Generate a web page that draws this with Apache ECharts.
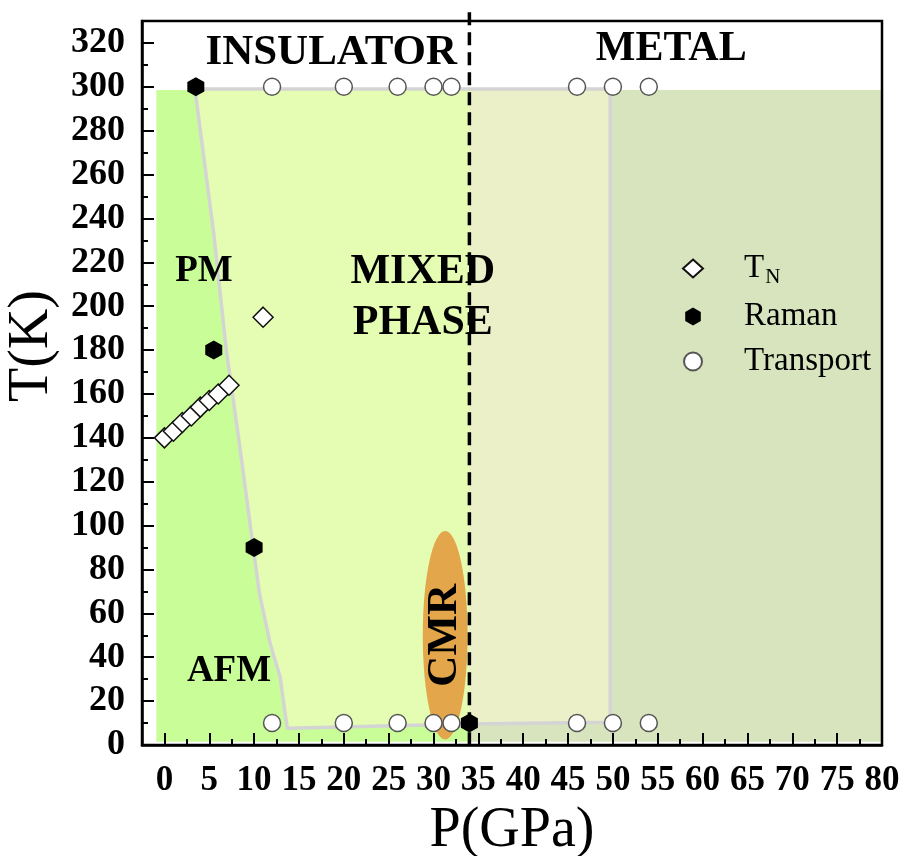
<!DOCTYPE html>
<html>
<head>
<meta charset="utf-8">
<script src="https://cdn.jsdelivr.net/npm/echarts@6/dist/echarts.min.js"></script>
<style>
  html, body { margin: 0; padding: 0; background: #ffffff; }
  #chart { width: 904px; height: 856px; }
</style>
</head>
<body>
<div id="chart"></div>
<script>
// Axis ticks (GPa and K)
const pressureTicks = [0, 5, 10, 15, 20, 25, 30, 35, 40, 45, 50, 55, 60, 65, 70, 75, 80];
const pressureMinorTicks = [2.5, 7.5, 12.5, 17.5, 22.5, 27.5, 32.5, 37.5, 42.5, 47.5, 52.5, 57.5, 62.5, 67.5, 72.5, 77.5];
const tempTicks = [0, 20, 40, 60, 80, 100, 120, 140, 160, 180, 200, 220, 240, 260, 280, 300, 320];
const tempMinorTicks = [10, 30, 50, 70, 90, 110, 130, 150, 170, 190, 210, 230, 250, 270, 290, 310];

// Measured points [P (GPa), T (K)]
const neelPoints = [[0, 140], [1, 143], [2, 147], [3, 150], [4, 154], [5, 157], [6, 160], [7.2, 164], [11, 195]];
const ramanPoints = [[3.5, 300], [5.5, 180], [10, 90], [34, 10]];
const transportPoints = [
  [12, 300], [20, 300], [26, 300], [30, 300], [32, 300], [46, 300], [50, 300], [54, 300],
  [12, 10], [20, 10], [26, 10], [30, 10], [32, 10], [46, 10], [50, 10], [54, 10]
];

// Phase boundaries
const afmEdge = [[3.4, 299], [5.5, 233], [6.9, 180], [8.3, 139], [9.9, 90], [10.6, 69], [11.8, 46], [12.9, 31], [13.4, 16], [13.7, 7.6]];
const lowEdge = [[13.7, 7.6], [34, 9.6], [49.7, 10.4]];
const metalEdge = [[49.7, 10.4], [49.7, 299], [3.4, 299]];
const transitionP = 34;   // insulator / metal divide
const topT = 298.5;
const bottomT = 1.5;

// Filled phase regions
const afmRegion = [[-0.9, bottomT], [-0.9, topT], [transitionP, topT], [transitionP, bottomT]];
const mixedRegion = [[3.4, topT]].concat(afmEdge.slice(1), [[transitionP, 9.6], [transitionP, topT]]);
const metalRegion = [[transitionP, bottomT], [transitionP, topT], [80, topT], [80, bottomT]];
const badMetalRegion = [[transitionP, 9.6], [transitionP, topT], [49.7, topT], [49.7, 10.4]];

// CMR ellipse: centre and half-axes (GPa, K)
const cmrCenter = [31.3, 50];
const cmrRadius = [2.5, 47.5];

// Region names [P, T, text]
const regionNames = [
  [18.6, 315.5, 'INSULATOR'],
  [56.5, 317, 'METAL'],
  [4.4, 216, 'PM'],
  [28.8, 204, 'MIXED\nPHASE'],
  [7.2, 33.4, 'AFM']
];
const cmrName = [31.3, 50, 'CMR'];

const SERIF = '"Liberation Serif", "Times New Roman", serif';
const HEX = 'path://M0,-1 L0.866,-0.5 L0.866,0.5 L0,1 L-0.866,0.5 L-0.866,-0.5 Z';

function regionSeries(verts, color) {
  return {
    type: 'custom',
    silent: true,
    z: 1,
    data: [[0, 0]],
    renderItem: function (params, api) {
      return {
        type: 'polygon',
        shape: { points: verts.map(function (p) { return api.coord(p); }) },
        style: { fill: color }
      };
    }
  };
}

const chart = echarts.init(document.getElementById('chart'), null, { renderer: 'canvas' });

const axisTickStyle = { color: '#000', width: 2 };

chart.setOption({
  animation: false,
  backgroundColor: '#ffffff',
  grid: {
    left: 142, right: 22, top: 21, bottom: 111, z: 10,
    outerBoundsMode: 'none', containLabel: false,
    show: true, borderColor: '#000', borderWidth: 2.5, backgroundColor: 'transparent'
  },
  legend: {
    orient: 'vertical',
    left: 677,
    top: 247,
    itemWidth: 20,
    itemHeight: 18,
    itemGap: 12,
    data: ['TN', 'Raman', 'Transport'],
    formatter: function (name) {
      return name === 'TN' ? '{t|T}{s|N}' : name;
    },
    textStyle: {
      fontFamily: SERIF, fontSize: 33, color: '#000', padding: [0, 0, 0, 36],
      rich: {
        t: { fontFamily: SERIF, fontSize: 33, color: '#000' },
        s: { fontFamily: SERIF, fontSize: 21, color: '#000', padding: [18, 0, 0, 1] }
      }
    }
  },
  xAxis: [
    {
      type: 'value', min: -2.5, max: 80, interval: 2.5, z: 10,
      position: 'bottom',
      name: 'P(GPa)', nameLocation: 'middle', nameGap: 54,
      nameTextStyle: { fontFamily: SERIF, fontSize: 56, color: '#000' },
      axisLine: { show: true, onZero: false, lineStyle: { color: '#000', width: 2.5 } },
      axisTick: { show: true, inside: true, length: 12, customValues: pressureTicks, lineStyle: axisTickStyle },
      axisLabel: {
        customValues: pressureTicks, margin: 18,
        fontFamily: SERIF, fontWeight: 'bold', fontSize: 35, color: '#000'
      },
      splitLine: { show: false }
    },
    {
      type: 'value', min: -2.5, max: 80, interval: 2.5, z: 10,
      position: 'bottom', offset: 0,
      axisLine: { show: false, onZero: false },
      axisTick: { show: true, inside: true, length: 6, customValues: pressureMinorTicks, lineStyle: axisTickStyle },
      axisLabel: { show: false },
      splitLine: { show: false }
    }
  ],
  yAxis: [
    {
      type: 'value', min: 0, max: 330, interval: 10, z: 10,
      position: 'left',
      name: 'T(K)', nameLocation: 'middle', nameGap: 75, nameRotate: 90,
      nameTextStyle: { fontFamily: SERIF, fontSize: 56, color: '#000', padding: [0, 0, 0, 74] },
      axisLine: { show: true, onZero: false, lineStyle: { color: '#000', width: 2.5 } },
      axisTick: { show: true, inside: true, length: 12, customValues: tempTicks, lineStyle: axisTickStyle },
      axisLabel: {
        customValues: tempTicks, margin: 17,
        fontFamily: SERIF, fontWeight: 'bold', fontSize: 36, color: '#000'
      },
      splitLine: { show: false }
    },
    {
      type: 'value', min: 0, max: 330, interval: 10, z: 10,
      position: 'left', offset: 0,
      axisLine: { show: false, onZero: false },
      axisTick: { show: true, inside: true, length: 6, customValues: tempMinorTicks, lineStyle: axisTickStyle },
      axisLabel: { show: false },
      splitLine: { show: false }
    }
  ],
  series: [
    regionSeries(afmRegion, '#c9fd98'),
    regionSeries(mixedRegion, '#e4fdb2'),
    regionSeries(metalRegion, '#d7e4bd'),
    regionSeries(badMetalRegion, '#ebf0c8'),
    {
      // phase boundary
      type: 'line', silent: true, z: 2, symbol: 'none',
      data: afmEdge.concat(lowEdge.slice(1), metalEdge.slice(1)),
      lineStyle: { color: '#d4d4d4', width: 3.5 }
    },
    {
      // CMR ellipse
      type: 'custom', silent: true, z: 3,
      data: [[cmrCenter[0], cmrCenter[1]]],
      renderItem: function (params, api) {
        const c = api.coord(cmrCenter);
        const s = api.size(cmrRadius);
        return {
          type: 'ellipse',
          shape: { cx: c[0], cy: c[1], rx: s[0], ry: s[1] },
          style: { fill: '#e4a64b' }
        };
      }
    },
    {
      // CMR label
      type: 'scatter', silent: true, z: 4, symbolSize: 1,
      itemStyle: { color: 'rgba(0,0,0,0)', opacity: 1 },
      data: [{ value: [cmrName[0], cmrName[1]], label: { formatter: cmrName[2] } }],
      label: {
        show: true, position: 'inside', rotate: 90,
        fontFamily: SERIF, fontWeight: 'bold', fontSize: 43, color: '#000'
      }
    },
    {
      // insulator / metal divide
      type: 'line', silent: true, z: 5, symbol: 'none', clip: false,
      data: [[transitionP, 334], [transitionP, 0]],
      lineStyle: { color: '#000', width: 3.5, type: [13, 7] }
    },
    {
      name: 'TN', type: 'scatter', z: 6, symbol: 'diamond', symbolSize: 20,
      data: neelPoints,
      itemStyle: { color: '#ffffff', borderColor: '#111', borderWidth: 1.5, opacity: 1 }
    },
    {
      name: 'Raman', type: 'scatter', z: 6, symbol: HEX, symbolSize: [17, 19],
      data: ramanPoints,
      itemStyle: { color: '#000000', borderColor: '#000', borderWidth: 0, opacity: 1 }
    },
    {
      name: 'Transport', type: 'scatter', z: 6, symbol: 'circle', symbolSize: 17,
      data: transportPoints,
      itemStyle: { color: '#ffffff', borderColor: '#555', borderWidth: 1.5, opacity: 1 }
    },
    {
      // region names
      type: 'scatter', silent: true, z: 7, symbolSize: 1,
      itemStyle: { color: 'rgba(0,0,0,0)', opacity: 1 },
      data: regionNames.map(function (r) {
        const big = r[2] === 'PM' || r[2] === 'AFM';
        return { value: [r[0], r[1]], label: { formatter: r[2], fontSize: big ? 37 : (r[2] === 'INSULATOR' ? 43 : 42) } };
      }),
      label: {
        show: true, position: 'inside', lineHeight: 51,
        fontFamily: SERIF, fontWeight: 'bold', color: '#000'
      }
    }
  ]
});
</script>
</body>
</html>
